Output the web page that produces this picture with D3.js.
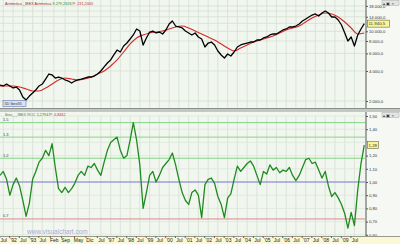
<!DOCTYPE html>
<html>
<head>
<meta charset="utf-8">
<script src="https://cdn.jsdelivr.net/npm/d3@7"></script>
<style>
  html, body { margin: 0; padding: 0; background: #ffffff; }
  svg { display: block; font-family: "Liberation Sans", Arial, sans-serif; }
</style>
</head>
<body>
<div id="chart"></div>
<script>
// Grafico IBEX + ROC (estilo visualchart)
const SVG = d3.select("#chart").append("svg");

const WIDTH = 400;
const HEIGHT = 244;
const PLOT_RIGHT = 365;
const TOP_Y0 = 0;
const TOP_Y1 = 108;
const BOT_Y0 = 112;
const BOT_Y1 = 236;

SVG.attr("width", WIDTH).attr("height", HEIGHT);

// precio del IBEX, una muestra cada 2 meses desde mayo 1991
const precio = [
  2890, 2830, 2960, 2830, 2700, 2760, 2580, 2190, 2050, 2240,
  2410, 2580, 2830, 2960, 3320, 3730, 3650, 3400, 3480, 3400,
  3250, 3170, 3030, 3170, 3250, 3320, 3400, 3480, 3480, 3560,
  3730, 4000, 4390, 4810, 5160, 5790, 6490, 6200, 7120, 7630,
  8370, 9190, 10550, 10070, 7290, 8570, 9840, 10070, 9620, 9840,
  9400, 10310, 11840, 12690, 11300, 11050, 10800, 10070, 9620, 9190,
  9620, 8770, 8370, 6960, 7630, 7810, 7290, 6340, 5790, 5400,
  5920, 5650, 6200, 6960, 7290, 7460, 7630, 7810, 7810, 8180,
  8180, 8570, 8770, 9190, 9400, 9400, 9840, 10310, 10550, 11050,
  11050, 11300, 11840, 12690, 13290, 13920, 14570, 14920, 14240, 15260,
  15980, 15260, 13920, 13920, 12990, 11570, 9620, 8000, 8770, 7120,
  9190, 10550, 11940
];

// media aritmetica, una muestra cada 4 meses
const media = [
  2830, 2830, 2830, 2760, 2640, 2520, 2520, 2700, 2960, 3250,
  3400, 3320, 3250, 3320, 3480, 3730, 4000, 4490, 5160, 6200,
  7460, 8570, 9190, 9620, 9840, 10070, 10550, 11050, 11300, 10800,
  10070, 9400, 8770, 8180, 7460, 6800, 6340, 6800, 7290, 7810,
  8180, 8570, 8970, 9620, 10310, 10800, 11300, 12400, 13600, 14570,
  15260, 14920, 13920, 12400, 10800, 9400, 9620
];

// ROC, una muestra cada 2 meses
const roc = [
  1.05, 1.08, 1.02, 0.90, 0.98, 1.03, 0.97, 0.86, 0.74, 0.84,
  1.02, 1.08, 1.15, 1.18, 1.24, 1.20, 1.29, 1.11, 0.95, 0.92,
  0.96, 0.92, 0.95, 0.99, 1.05, 1.08, 1.05, 1.12, 1.11, 1.14,
  1.09, 1.05, 1.15, 1.24, 1.30, 1.32, 1.34, 1.24, 1.18, 1.20,
  1.32, 1.45, 1.32, 1.13, 0.80, 0.92, 1.05, 1.08, 1.00, 1.05,
  1.11, 1.14, 1.17, 1.22, 1.13, 1.02, 0.92, 0.86, 0.83, 0.92,
  0.94, 0.90, 0.73, 0.98, 1.02, 1.03, 0.99, 0.89, 0.83, 0.73,
  0.88, 0.91, 1.02, 1.12, 1.08, 1.11, 1.14, 1.16, 1.12, 1.05,
  0.98, 1.08, 1.06, 1.13, 1.09, 1.11, 1.07, 1.09, 1.08, 1.11,
  1.05, 1.01, 1.05, 1.11, 1.17, 1.18, 1.14, 1.15, 1.09, 1.03,
  1.08, 0.97, 0.89, 0.92, 0.88, 0.83, 0.76, 0.65, 0.77, 0.67,
  0.94, 1.14, 1.28
];

const xTickFechas = [
  "1991-07", "1992-01", "1992-07", "1993-01", "1993-07", "1994-02", "1994-09", "1995-05",
  "1995-12", "1996-07", "1997-01", "1997-07", "1998-01", "1998-07", "1999-01", "1999-07",
  "2000-01", "2000-07", "2001-01", "2001-07", "2002-01", "2002-07", "2003-01", "2003-07",
  "2004-01", "2004-07", "2005-01", "2005-07", "2006-01", "2006-07", "2007-01", "2007-07",
  "2008-01", "2008-07", "2009-01", "2009-07"
];
const xTickTextos = [
  "Jul", "'92", "Jul", "'93", "Jul", "Feb", "Sep", "May",
  "Dic", "Jul", "'97", "Jul", "'98", "Jul", "'99", "Jul",
  "'00", "Jul", "'01", "Jul", "'02", "Jul", "'03", "Jul",
  "'04", "Jul", "'05", "Jul", "'06", "Jul", "'07", "Jul",
  "'08", "Jul", "'09", "Jul"
];

// 12.000 y 1,30 quedan tapados por la caja del ultimo valor
const yTicksPrecio = [2000, 4000, 6000, 8000, 10000, 14000, 18000];
const yGridPrecio = [2000, 4000, 6000, 8000, 10000, 12000, 14000, 16000, 18000];
const yTicksRoc = [0.6, 0.7, 0.8, 0.9, 1.0, 1.1, 1.2, 1.4, 1.5];
const yGridRoc = [0.6, 0.7, 0.8, 0.9, 1.0, 1.1, 1.2, 1.3, 1.4, 1.5];

const niveles = [1.45, 1.34, 1.18, 1.0, 0.72];
const nivelesTexto = ["1.5", "1.3", "1.2", "", "0.7"];
const nivelesColor = ["#86d686", "#86d686", "#86d686", "#7b7bd0", "#d68a8a"];

const ultimoPrecio = "11.940,5";
const ultimoRoc = "1,28";

const es = d3.formatLocale({ decimal: ",", thousands: ".", grouping: [3], currency: ["", "€"] });
const fmtPrecio = es.format(",.1f");
const fmtRoc = es.format(".2f");

const parseMes = d3.timeParse("%Y-%m");

function vis() {
    const x = d3.scaleTime()
        .domain([new Date(1991, 4, 1), new Date(2010, 0, 15)])
        .range([0, PLOT_RIGHT]);

    const yPrecio = d3.scaleLog()
        .domain([1701, 20610])
        .range([TOP_Y1, TOP_Y0]);

    const yRoc = d3.scaleLinear()
        .domain([0.6, 1.5])
        .range([234.8, 116]);

    const fechasPrecio = precio.map((d, i) => new Date(1991, 4 + 2 * i, 1));
    const fechasMedia = media.map((d, i) => new Date(1991, 4 + 4 * i, 1));
    const tickFechas = xTickFechas.map(parseMes);

    // fondos
    SVG.append("rect")
        .attr("x", 0).attr("y", 0)
        .attr("width", WIDTH).attr("height", HEIGHT)
        .attr("fill", "#f5f8f3");

    SVG.append("rect")
        .attr("x", 0).attr("y", TOP_Y0)
        .attr("width", PLOT_RIGHT).attr("height", TOP_Y1 - TOP_Y0)
        .attr("fill", "#f1f6ef");

    SVG.append("rect")
        .attr("x", 0).attr("y", BOT_Y0)
        .attr("width", PLOT_RIGHT).attr("height", BOT_Y1 - BOT_Y0)
        .attr("fill", "#f1f6ef");

    // rejilla vertical
    [[TOP_Y0, TOP_Y1], [BOT_Y0 + 4, BOT_Y1]].forEach(function(p) {
        SVG.append("g")
            .selectAll("line")
            .data(tickFechas)
            .join("line")
            .attr("x1", d => x(d)).attr("x2", d => x(d))
            .attr("y1", p[0]).attr("y2", p[1])
            .attr("stroke", "#d6e0d4")
            .attr("stroke-width", 0.8);
    });

    // rejilla horizontal
    SVG.append("g")
        .selectAll("line")
        .data(yGridPrecio)
        .join("line")
        .attr("x1", 0).attr("x2", PLOT_RIGHT)
        .attr("y1", d => yPrecio(d)).attr("y2", d => yPrecio(d))
        .attr("stroke", "#d6e0d4")
        .attr("stroke-width", 0.8);

    SVG.append("g")
        .selectAll("line")
        .data(yGridRoc)
        .join("line")
        .attr("x1", 0).attr("x2", PLOT_RIGHT)
        .attr("y1", d => yRoc(d)).attr("y2", d => yRoc(d))
        .attr("stroke", "#dde6db")
        .attr("stroke-width", 0.8);

    // lineas de nivel del ROC
    SVG.append("g")
        .selectAll("line")
        .data(niveles)
        .join("line")
        .attr("x1", 0).attr("x2", PLOT_RIGHT)
        .attr("y1", d => yRoc(d)).attr("y2", d => yRoc(d))
        .attr("stroke", (d, i) => nivelesColor[i])
        .attr("stroke-width", 1);

    SVG.append("g")
        .selectAll("text")
        .data(niveles)
        .join("text")
        .attr("x", 3)
        .attr("y", d => yRoc(d) - 1.5)
        .attr("font-size", 4)
        .attr("fill", "#444")
        .text((d, i) => nivelesTexto[i]);

    // media (roja) y precio (negro)
    SVG.append("path")
        .datum(media)
        .attr("fill", "none")
        .attr("stroke", "#d42a2a")
        .attr("stroke-width", 1.1)
        .attr("d", d3.line()
            .x((d, i) => x(fechasMedia[i]))
            .y(d => yPrecio(d))
            .curve(d3.curveMonotoneX));

    SVG.append("path")
        .datum(precio)
        .attr("fill", "none")
        .attr("stroke", "#000")
        .attr("stroke-width", 1.3)
        .attr("stroke-linejoin", "round")
        .attr("d", d3.line()
            .x((d, i) => x(fechasPrecio[i]))
            .y(d => yPrecio(d)));

    // ROC
    SVG.append("path")
        .datum(roc)
        .attr("fill", "none")
        .attr("stroke", "#1f8a1f")
        .attr("stroke-width", 1.3)
        .attr("stroke-linejoin", "round")
        .attr("d", d3.line()
            .x((d, i) => x(fechasPrecio[i]))
            .y(d => yRoc(d)));

    // separador entre paneles
    SVG.append("rect")
        .attr("x", 0).attr("y", TOP_Y1)
        .attr("width", WIDTH).attr("height", BOT_Y0 - TOP_Y1)
        .attr("fill", "#c4c8c4");
    SVG.append("line")
        .attr("x1", 0).attr("x2", WIDTH)
        .attr("y1", TOP_Y1 + 0.5).attr("y2", TOP_Y1 + 0.5)
        .attr("stroke", "#8c908c");

    // ejes derechos
    const ejePrecio = SVG.append("g")
        .attr("transform", `translate(${PLOT_RIGHT + 1},0)`)
        .call(d3.axisRight(yPrecio).tickValues(yTicksPrecio).tickFormat(fmtPrecio).tickSize(2).tickSizeOuter(0));

    const ejeRoc = SVG.append("g")
        .attr("transform", `translate(${PLOT_RIGHT + 1},0)`)
        .call(d3.axisRight(yRoc).tickValues(yTicksRoc).tickFormat(fmtRoc).tickSize(2).tickSizeOuter(0));

    [ejePrecio, ejeRoc].forEach(function(g) {
        g.select(".domain").remove();
        g.selectAll(".tick line").attr("stroke", "#555");
        g.selectAll(".tick text")
            .attr("x", 3)
            .attr("font-size", 4.2)
            .attr("fill", "#333");
    });

    SVG.append("line")
        .attr("x1", PLOT_RIGHT + 1).attr("x2", PLOT_RIGHT + 1)
        .attr("y1", 0).attr("y2", TOP_Y1)
        .attr("stroke", "#555").attr("stroke-width", 1);
    SVG.append("line")
        .attr("x1", PLOT_RIGHT + 1).attr("x2", PLOT_RIGHT + 1)
        .attr("y1", BOT_Y0).attr("y2", BOT_Y1)
        .attr("stroke", "#555").attr("stroke-width", 1);

    // cajas de ultimo valor
    const cajas = [
        { y: yPrecio(precio[precio.length - 1]), w: 22, t: ultimoPrecio },
        { y: yRoc(roc[roc.length - 1]), w: 11, t: ultimoRoc }
    ];
    cajas.forEach(function(c) {
        SVG.append("rect")
            .attr("x", PLOT_RIGHT + 2.5).attr("y", c.y - 3.5)
            .attr("width", c.w).attr("height", 7)
            .attr("fill", "#fbf59a")
            .attr("stroke", "#6b6b3a")
            .attr("stroke-width", 0.6);
        SVG.append("text")
            .attr("x", PLOT_RIGHT + 3.5).attr("y", c.y + 1.6)
            .attr("font-size", 4.4)
            .attr("fill", "#333")
            .text(c.t);
    });

    // eje de fechas
    SVG.append("rect")
        .attr("x", 0).attr("y", BOT_Y1)
        .attr("width", WIDTH).attr("height", HEIGHT - BOT_Y1)
        .attr("fill", "#fbf8d6");
    SVG.append("line")
        .attr("x1", 0).attr("x2", WIDTH)
        .attr("y1", BOT_Y1 + 0.5).attr("y2", BOT_Y1 + 0.5)
        .attr("stroke", "#9a9a8a");

    const ejeX = SVG.append("g")
        .attr("transform", `translate(0,${BOT_Y1})`)
        .call(d3.axisBottom(x).tickValues(tickFechas).tickFormat((d, i) => xTickTextos[i]).tickSize(2).tickSizeOuter(0));
    ejeX.select(".domain").remove();
    ejeX.selectAll(".tick line").attr("stroke", "#666").attr("transform", "translate(-4,0)");
    ejeX.selectAll(".tick text")
        .attr("y", 2.5)
        .attr("font-size", 5)
        .attr("fill", "#222");

    // titulos
    const t1 = SVG.append("text")
        .attr("x", 5).attr("y", 5.2)
        .attr("font-size", 3.8);
    t1.append("tspan").attr("fill", "#a03030").text("Aritmetica _IBEX Aritmetica ");
    t1.append("tspan").attr("fill", "#2a8a2a").text("9.279,2626 ");
    t1.append("tspan").attr("fill", "#c03030").text("P: 231,2000");

    const t2 = SVG.append("text")
        .attr("x", 5).attr("y", BOT_Y0 + 3.6)
        .attr("font-size", 3.8);
    t2.append("tspan").attr("fill", "#5a7a5a").text("Ibex_ _IBEX ROC ");
    t2.append("tspan").attr("fill", "#2a8a2a").text("1,2794 ");
    t2.append("tspan").attr("fill", "#c03030").text("P: 0,8432");

    // iconos de ventana
    [TOP_Y0, BOT_Y0].forEach(function(y0) {
        SVG.append("rect")
            .attr("x", 382).attr("y", y0 + 0.5)
            .attr("width", 17).attr("height", 5)
            .attr("fill", "#e4e4e4")
            .attr("stroke", "#999")
            .attr("stroke-width", 0.4);
        SVG.append("text")
            .attr("x", 383).attr("y", y0 + 4.6)
            .attr("font-size", 4.4)
            .attr("fill", "#333")
            .text("\u25B4 \u25A3 \u00D7");
    });

    // leyenda pequena
    SVG.append("rect")
        .attr("x", 3).attr("y", 100.5)
        .attr("width", 23).attr("height", 6)
        .attr("fill", "#d9e3f5")
        .attr("stroke", "#5a78b0")
        .attr("stroke-width", 0.6);
    SVG.append("text")
        .attr("x", 4.5).attr("y", 105)
        .attr("font-size", 3.8)
        .attr("fill", "#334")
        .text("5D Ibex35");

    // marca de agua
    SVG.append("text")
        .attr("x", 27).attr("y", 233.5)
        .attr("font-size", 6.5)
        .attr("fill", "#a5a8da")
        .text("www.visualchart.com");
}

document.addEventListener('DOMContentLoaded', function() {
    vis();
});
</script>
</body>
</html>
